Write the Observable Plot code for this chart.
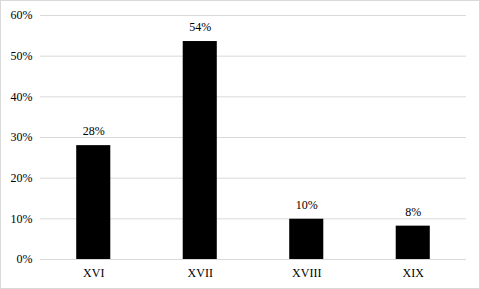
<!DOCTYPE html>
<html>
<head>
<meta charset="utf-8">
<script src="https://cdn.jsdelivr.net/npm/d3@7"></script>
<script src="https://cdn.jsdelivr.net/npm/@observablehq/plot@0.6"></script>
<style>
  html, body { margin: 0; padding: 0; background: #fff; }
  #chart svg { display: block; outline: 1px solid #d9d9d9; outline-offset: -1px; }
</style>
</head>
<body>
<div id="chart"></div>
<script>
const centuries = ["XVI", "XVII", "XVIII", "XIX"];
const shares = [0.28, 0.536, 0.099, 0.082];
const labels = ["28%", "54%", "10%", "8%"];
const yTicks = [0, 0.1, 0.2, 0.3, 0.4, 0.5, 0.6];

const data = centuries.map((c, i) => ({century: c, share: shares[i], label: labels[i]}));

const chart = Plot.plot({
  width: 480,
  height: 289,
  marginLeft: 40,
  marginRight: 14,
  marginTop: 15,
  marginBottom: 30,
  style: {fontFamily: "'Liberation Serif', 'Times New Roman', serif", fontSize: "12px", color: "#000", background: "#fff"},
  x: {domain: centuries, paddingInner: 0.68, paddingOuter: 0.34, round: false, label: null},
  y: {domain: [0, 0.6], label: null},
  marks: [
    Plot.ruleY(yTicks, {stroke: "#d9d9d9", strokeWidth: 1}),
    Plot.barY(data, {x: "century", y: "share", fill: "#000"}),
    Plot.text(data, {x: "century", y: "share", text: "label", dy: -14, fill: "#000"}),
    Plot.axisY({ticks: yTicks, tickFormat: d3.format(".0%"), tickSize: 0, tickPadding: 8, label: null}),
    Plot.axisX({tickSize: 0, tickPadding: 9, label: null})
  ]
});
document.getElementById("chart").append(chart);
</script>
</body>
</html>
